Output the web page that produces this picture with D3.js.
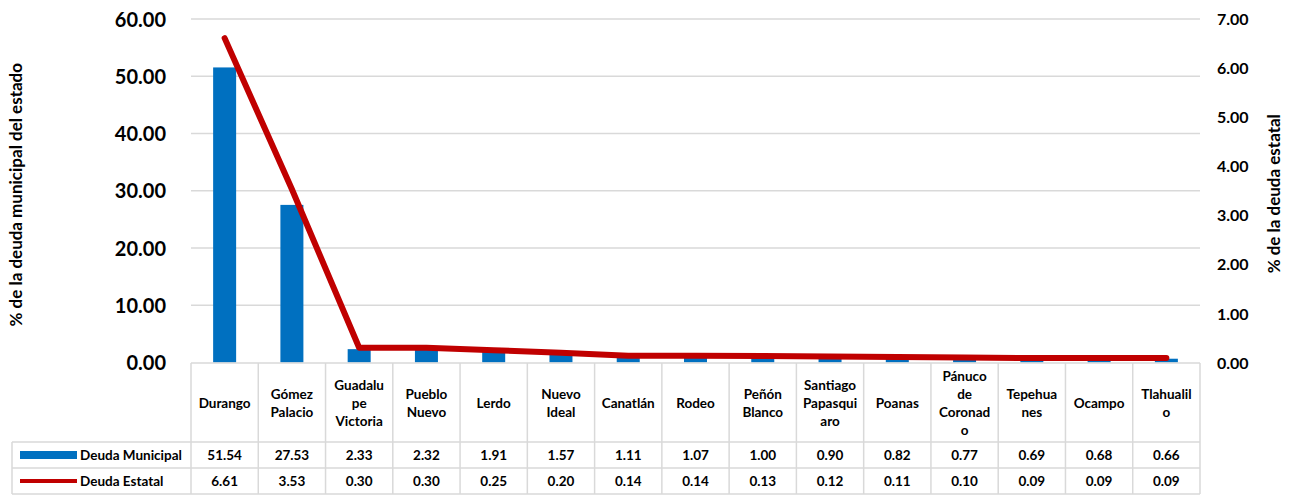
<!DOCTYPE html>
<html><head><meta charset="utf-8">
<script src="https://cdn.jsdelivr.net/npm/d3@7"></script>
<style>body{margin:0;background:#fff}svg{display:block}text{font-family:Lato,"Open Sans",sans-serif;font-weight:bold;fill:#000}</style>
</head><body><svg id="c" width="1289" height="496"></svg>
<script>
const categories = ["Durango","Gómez Palacio","Guadalupe Victoria","Pueblo Nuevo","Lerdo","Nuevo Ideal","Canatlán","Rodeo","Peñón Blanco","Santiago Papasquiaro","Poanas","Pánuco de Coronado","Tepehuanes","Ocampo","Tlahualilo"];
const categoryLines = [["Durango"],["Gómez","Palacio"],["Guadalu","pe","Victoria"],["Pueblo","Nuevo"],["Lerdo"],["Nuevo","Ideal"],["Canatlán"],["Rodeo"],["Peñón","Blanco"],["Santiago","Papasqui","aro"],["Poanas"],["Pánuco","de","Coronad","o"],["Tepehua","nes"],["Ocampo"],["Tlahualil","o"]];
const deudaMunicipal = [51.54,27.53,2.33,2.32,1.91,1.57,1.11,1.07,1.00,0.90,0.82,0.77,0.69,0.68,0.66];
const deudaEstatal = [6.61,3.53,0.30,0.30,0.25,0.20,0.14,0.14,0.13,0.12,0.11,0.10,0.09,0.09,0.09];
const leftTicks = [0,10,20,30,40,50,60];
const rightTicks = [0,1,2,3,4,5,6,7];
const seriesNames = ["Deuda Municipal","Deuda Estatal"];

const svg = d3.select("#c");
const L = 191, R = 1200, T = 19, B = 362.5;
const x = d3.scaleBand().domain(categories).range([L,R]);
const yL = d3.scaleLinear().domain([0,60]).range([B,T]);
const yR = d3.scaleLinear().domain([0,7]).range([B,T]);
const blue = "#0070C0", red = "#C00000", grid = "#D9D9D9";

// gridlines
svg.append("g").selectAll("line").data(leftTicks.filter(d=>d>0)).join("line")
  .attr("x1",L).attr("x2",R).attr("y1",d=>yL(d)).attr("y2",d=>yL(d))
  .attr("stroke",grid).attr("stroke-width",1.5);

// left axis
const la = svg.append("g").attr("transform",`translate(${L-22},0)`)
  .call(d3.axisLeft(yL).tickValues(leftTicks).tickFormat(d3.format(".2f")).tickSize(0));
la.select(".domain").remove();
la.selectAll("text").style("font-size","20px").attr("dy","0.35em");
const ra = svg.append("g").attr("transform",`translate(${R+14},0)`)
  .call(d3.axisRight(yR).tickValues(rightTicks).tickFormat(d3.format(".2f")).tickSize(0));
ra.select(".domain").remove();
ra.selectAll("text").style("font-size","16px").attr("dy","0.35em");

// axis titles
svg.append("text").attr("transform",`translate(22,${(T+B)/2+4}) rotate(-90)`).attr("text-anchor","middle")
  .style("font-size","17px").text("% de la deuda municipal del estado");
svg.append("text").attr("transform",`translate(1280,${(T+B)/2+3}) rotate(-90)`).attr("text-anchor","middle")
  .style("font-size","17px").text("% de la deuda estatal");

// bars
const bw = 23;
svg.append("g").selectAll("rect").data(deudaMunicipal).join("rect")
  .attr("x",(d,i)=>x(categories[i])+x.bandwidth()/2-bw/2).attr("width",bw)
  .attr("y",d=>yL(d)).attr("height",d=>B-yL(d)).attr("fill",blue);

// line
svg.append("path").datum(deudaEstatal)
  .attr("d",d3.line().x((d,i)=>x(categories[i])+x.bandwidth()/2).y(d=>yR(d)))
  .attr("fill","none").attr("stroke",red).attr("stroke-width",6).attr("stroke-linecap","round").attr("stroke-linejoin","round");

// data table
const rowTop = 363, catH = 79, rowH = 26, labL = 12;
const tb = svg.append("g");
function ln(x1,y1,x2,y2){tb.append("line").attr("x1",x1).attr("y1",y1).attr("x2",x2).attr("y2",y2).attr("stroke",grid).attr("stroke-width",1.5);}
ln(L,rowTop,R,rowTop);
ln(labL,rowTop+catH,R,rowTop+catH);
ln(labL,rowTop+catH+rowH,R,rowTop+catH+rowH);
ln(labL,rowTop+catH+2*rowH,R,rowTop+catH+2*rowH);
ln(labL,rowTop+catH,labL,rowTop+catH+2*rowH);
categories.forEach((c,i)=>ln(x(c),rowTop,x(c),rowTop+catH+2*rowH));
ln(R,rowTop,R,rowTop+catH+2*rowH);

const fs = "13.5px";
categories.forEach((c,i)=>{
  const cx = x(c)+x.bandwidth()/2, lines = categoryLines[i];
  const cy = rowTop+catH/2+1;
  lines.forEach((t,j)=>{
    tb.append("text").attr("x",cx).attr("y",cy+(j-(lines.length-1)/2)*18).attr("dy","0.35em")
      .attr("text-anchor","middle").style("font-size",fs).text(t);
  });
  tb.append("text").attr("x",cx).attr("y",rowTop+catH+rowH/2).attr("dy","0.35em").attr("text-anchor","middle")
    .style("font-size",fs).text(d3.format(".2f")(deudaMunicipal[i]));
  tb.append("text").attr("x",cx).attr("y",rowTop+catH+rowH*1.5).attr("dy","0.35em").attr("text-anchor","middle")
    .style("font-size",fs).text(d3.format(".2f")(deudaEstatal[i]));
});
// legend keys
const y1 = rowTop+catH+rowH/2, y2 = rowTop+catH+rowH*1.5;
tb.append("rect").attr("x",20).attr("y",y1-4).attr("width",57).attr("height",8).attr("fill",blue);
tb.append("line").attr("x1",20).attr("x2",77).attr("y1",y2).attr("y2",y2).attr("stroke",red).attr("stroke-width",4);
tb.append("text").attr("x",80).attr("y",y1).attr("dy","0.35em").style("font-size",fs).text(seriesNames[0]);
tb.append("text").attr("x",80).attr("y",y2).attr("dy","0.35em").style("font-size",fs).text(seriesNames[1]);
</script></body></html>
